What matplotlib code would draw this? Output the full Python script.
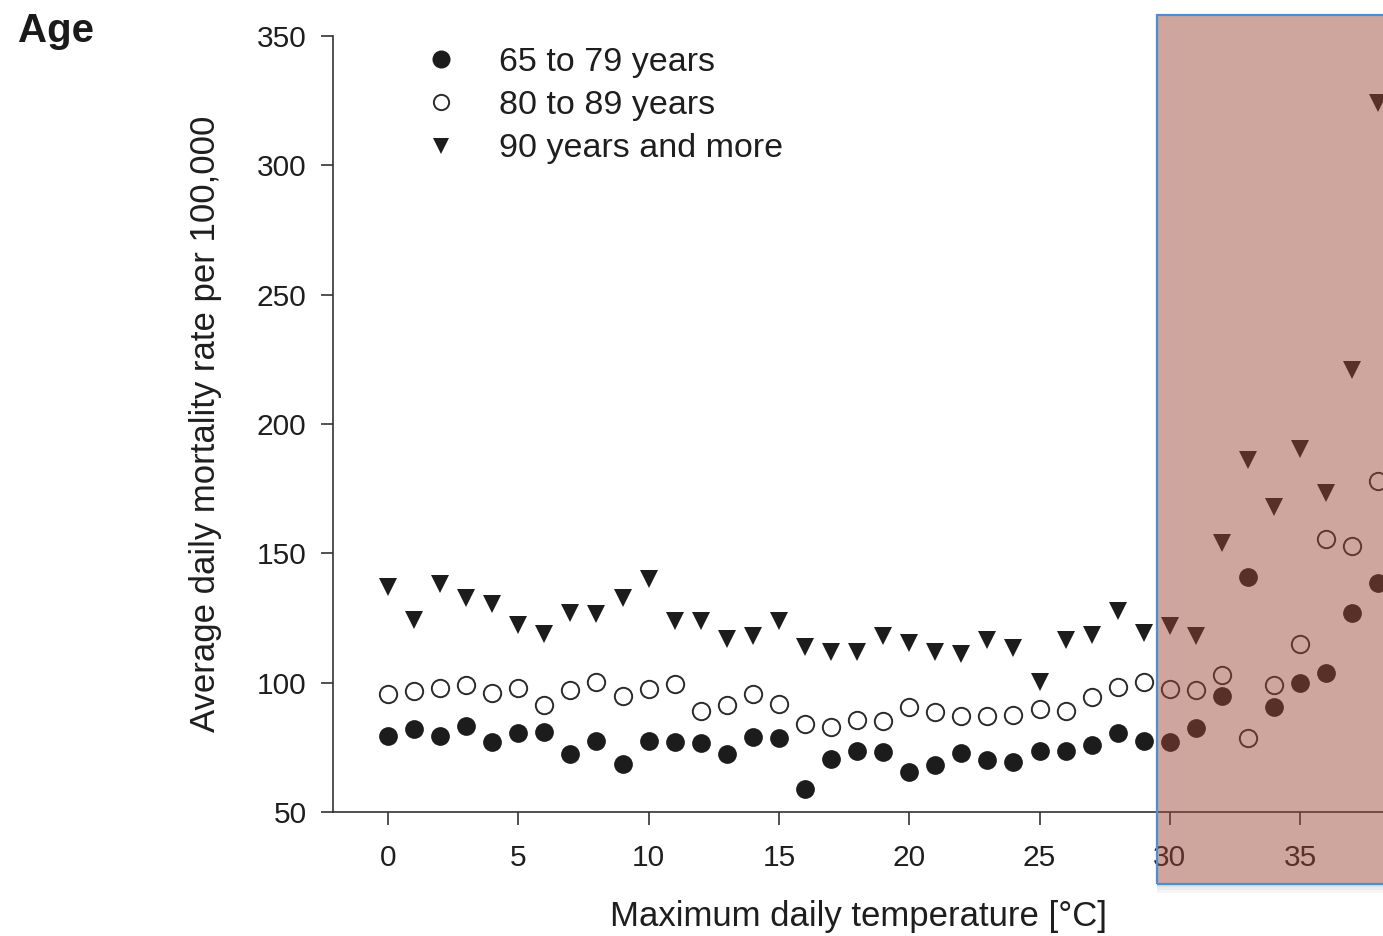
import matplotlib
matplotlib.use("Agg")
import matplotlib.pyplot as plt
from matplotlib.patches import Rectangle
from matplotlib.lines import Line2D

plt.rcParams['font.family'] = ['Liberation Sans', 'DejaVu Sans']

temps = list(range(0, 39))
age_65_79 = [79.4, 82.1, 79.4, 83.3, 77.1, 80.6, 81.0, 72.5, 77.5, 68.6,
             77.5, 77.1, 76.7, 72.5, 79.0, 78.6, 59.0, 70.5, 73.6, 73.2,
             65.5, 68.2, 72.8, 70.1, 69.4, 73.6, 73.6, 75.9, 80.6, 77.5,
             77.1, 82.5, 94.9, 140.9, 90.6, 99.9, 103.8, 127.0, 138.6]
age_80_89 = [95.6, 96.8, 98.0, 99.1, 96.0, 98.0, 91.4, 97.2, 100.3, 94.9,
             97.6, 99.5, 89.1, 91.4, 95.6, 91.8, 84.1, 82.9, 85.6, 85.2,
             90.6, 88.7, 87.1, 87.1, 87.5, 89.8, 89.1, 94.5, 98.4, 100.3,
             97.6, 97.2, 103.0, 78.6, 99.1, 115.0, 155.6, 152.9, 178.0]
age_90_plus = [137.0, 124.3, 138.2, 132.8, 130.4, 122.3, 118.8, 127.0, 126.6, 132.8,
               140.1, 123.9, 123.9, 116.9, 118.1, 123.9, 113.8, 111.9, 111.9, 118.1,
               115.4, 111.9, 111.1, 116.5, 113.4, 100.3, 116.5, 118.5, 127.7, 119.2,
               121.9, 118.1, 154.0, 186.1, 168.0, 190.4, 173.3, 220.8, 324.1]
labels = ["65 to 79 years", "80 to 89 years", "90 years and more"]
xticks = [0, 5, 10, 15, 20, 25, 30, 35]
yticks = [50, 100, 150, 200, 250, 300, 350]

W, H = 1383, 936
fig = plt.figure(figsize=(W / 100, H / 100), dpi=100)
ax_l, ax_b, ax_t = 333, 812, 36
ax = fig.add_axes([ax_l / W, 1 - ax_b / H, 1 - ax_l / W, (ax_b - ax_t) / H])
ax_w_px = W - ax_l
ax_h_px = ax_b - ax_t

dark = '#1c1c1c'
ax.plot(temps, age_90_plus, linestyle='none', marker='v', ms=12.5, color=dark,
        markeredgewidth=0)
ax.plot(temps, age_80_89, linestyle='none', marker='o', ms=12.5, markerfacecolor='white',
        markeredgecolor='#2a2a2a', markeredgewidth=1.4)
ax.plot(temps, age_65_79, linestyle='none', marker='o', ms=13.5, color=dark,
        markeredgewidth=0)

ax.set_xlim((ax_l - 388) / 26.06, (W - 388) / 26.06)
ax.set_ylim(50, 350)
ax.set_xticks(xticks)
ax.set_yticks(yticks)
ax.tick_params(labelsize=21.5, length=9, width=1.2, color='#333333', labelcolor='#1e1e1e')
ax.tick_params(axis='x', pad=14)
ax.tick_params(axis='y', pad=10)
for s in ['top', 'right']:
    ax.spines[s].set_visible(False)
for s in ['left', 'bottom']:
    ax.spines[s].set_color('#333333')
    ax.spines[s].set_linewidth(1.2)

ax.set_xlabel("Maximum daily temperature [°C]", fontsize=25, color='#1e1e1e')
ax.xaxis.set_label_coords(0.5, -(926 - ax_b) / ax_h_px)
ax.xaxis.label.set_va('baseline')
ax.set_ylabel("Average daily mortality rate per 100,000", fontsize=25, color='#1e1e1e')
ax.yaxis.set_label_coords(-(ax_l - 222) / ax_w_px, 0.5)

handles = [
    Line2D([], [], linestyle='none', marker='o', ms=13, color=dark, markeredgewidth=0),
    Line2D([], [], linestyle='none', marker='o', ms=11, markerfacecolor='white',
           markeredgecolor='#2a2a2a', markeredgewidth=1.4),
    Line2D([], [], linestyle='none', marker='v', ms=11, color=dark, markeredgewidth=0),
]
leg = fig.legend(handles, labels, loc='upper left', bbox_to_anchor=(424 / W, 1 - 47 / H),
                 frameon=False, fontsize=24.5, handletextpad=1.2, labelspacing=0.36,
                 borderpad=0, handlelength=1.0, borderaxespad=0)
for t in leg.get_texts():
    t.set_color('#1e1e1e')

fig.text(18 / W, 1 - 42 / H, "Age", fontsize=29, fontweight='bold', va='baseline',
         ha='left', color='#1a1a1a')

# highlighted region with a soft shadow below it
rx0, ry_top, ry_bot = 1157, 15, 884
for i, a in enumerate([0.12, 0.08, 0.04]):
    fig.add_artist(Rectangle((rx0 / W, 1 - (ry_bot + 3 * (i + 1)) / H), 1.0, 3 / H,
                             transform=fig.transFigure, facecolor='#000000', alpha=a,
                             edgecolor='none', zorder=9))
fig.add_artist(Rectangle((rx0 / W, 1 - ry_bot / H), 1.0, (ry_bot - ry_top) / H,
                         transform=fig.transFigure, facecolor='#9a4635', alpha=0.48,
                         edgecolor='none', zorder=10))
fig.add_artist(Rectangle((rx0 / W, 1 - ry_bot / H), 1.0, (ry_bot - ry_top) / H,
                         transform=fig.transFigure, facecolor='none',
                         edgecolor='#4a8fd6', linewidth=1.6, zorder=11))

fig.savefig("out.png", dpi=100)
